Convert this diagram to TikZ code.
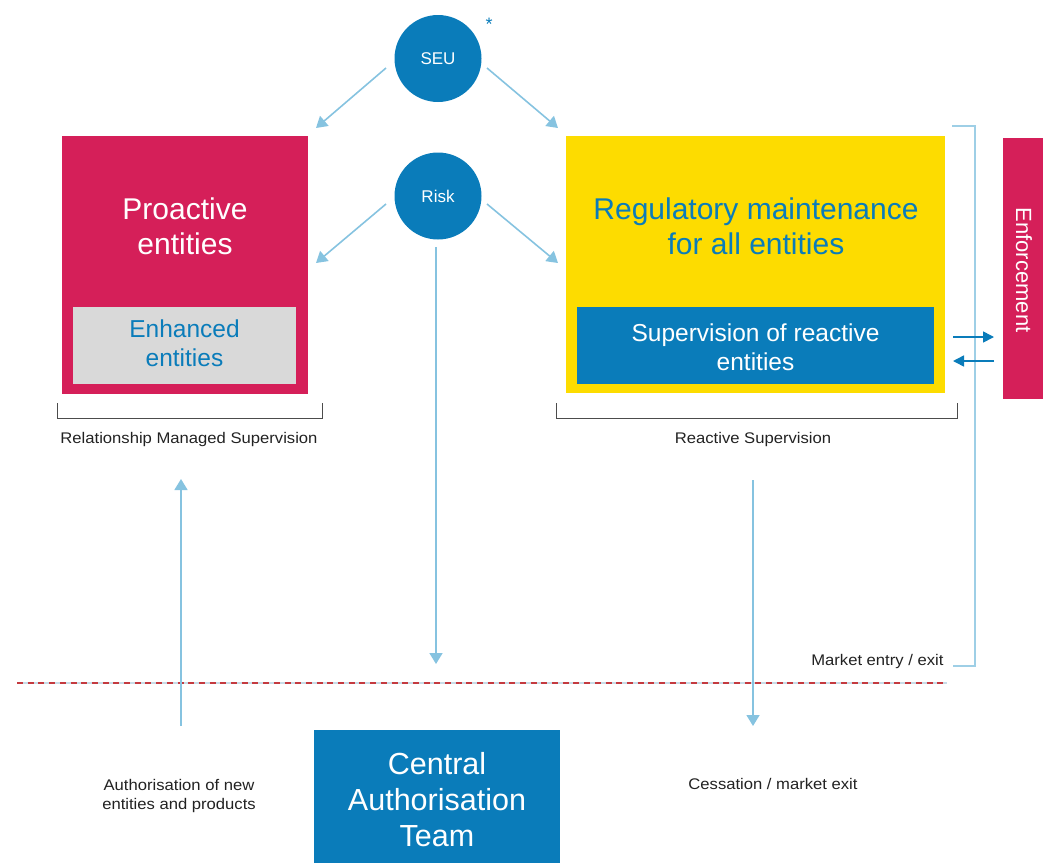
\documentclass[tikz,border=0pt]{standalone}
\usepackage{fontspec}
\setmainfont{Liberation Sans}
\newfontfamily\smallfont[FakeStretch=1.08]{Liberation Sans}
\usetikzlibrary{arrows.meta}
\definecolor{cred}{HTML}{D51F59}
\definecolor{cblue}{HTML}{0A7CBA}
\definecolor{clight}{HTML}{86C3E0}
\definecolor{cyellow}{HTML}{FDDC00}
\definecolor{cgray}{HTML}{D9D9D9}
\definecolor{cdash}{HTML}{C43A3F}
\definecolor{cdashbg}{HTML}{C8DCE8}
\definecolor{ctext}{HTML}{222222}
\begin{document}
\begin{tikzpicture}[x=1pt,y=-1pt,
  box/.style={inner sep=0pt, outer sep=0pt},
  circ/.style={circle, fill=cblue, minimum size=87pt, inner sep=0pt, text=white, font=\fontsize{17}{20}\selectfont},
  flow/.style={draw=clight, line width=1.6pt, -{Triangle[width=13pt,length=11pt]}},
  bigtxt/.style={align=center, font=\fontsize{30}{35}\selectfont},
  cattxtstyle/.style={align=center, font=\fontsize{30.5}{36}\selectfont},
  midtxt/.style={align=center, font=\fontsize{24.5}{29}\selectfont},
  small/.style={align=center, text=ctext, font=\smallfont\fontsize{15.4}{19}\selectfont},
  brk/.style={draw=black!70, line width=1pt},
  lbrk/.style={draw=clight!80, line width=1.6pt},
  enfarrow/.style={draw=cblue, line width=1.6pt, -{Triangle[width=11pt,length=11pt]}}
]
\useasboundingbox (0,0) rectangle (1043,863);
% boxes
\node[box, fill=cred, minimum width=246pt, minimum height=258pt] (pro) at (185,265) {};
\node[box, fill=cgray, minimum width=223pt, minimum height=77pt] (enh) at (184.5,345.5) {};
\node[box, fill=cyellow, minimum width=379pt, minimum height=257pt] (reg) at (755.5,264.5) {};
\node[box, fill=cblue, minimum width=357pt, minimum height=77pt] (sup) at (755.5,345.5) {};
\node[box, fill=cred, minimum width=40pt, minimum height=261pt] (enf) at (1023,268.5) {};
\node[box, fill=cblue, minimum width=246pt, minimum height=133pt] (cat) at (437,796.5) {};
% texts
\node[bigtxt, text=white] (protxt) at (185,226) {Proactive\\entities};
\node[midtxt, text=cblue] (enhtxt) at (184.5,343) {Enhanced\\entities};
\node[bigtxt, text=cblue] (regtxt) at (756,226) {Regulatory maintenance\\for all entities};
\node[midtxt, text=white] (suptxt) at (755.5,347) {Supervision of reactive\\entities};
\node[text=white, rotate=-90, font=\fontsize{22}{26}\selectfont] (enftxt) at (1024,270) {Enforcement};
\node[cattxtstyle, text=white] (cattxt) at (437,799.5) {Central\\Authorisation\\Team};
% circles
\node[circ] (seu) at (438,58.5) {SEU};
\node[circ] (risk) at (438,196) {Risk};
\node[text=cblue, font=\fontsize{18}{20}\selectfont] (ast) at (489,24) {*};
% arrows from circles
\coordinate (a1s) at (386,68); \coordinate (a1e) at (316,128);
\coordinate (a2s) at (487,68); \coordinate (a2e) at (558,128);
\coordinate (a3s) at (386,204); \coordinate (a3e) at (316,263);
\coordinate (a4s) at (487,204); \coordinate (a4e) at (558,263);
\draw[flow] (a1s) -- (a1e);
\draw[flow] (a2s) -- (a2e);
\draw[flow] (a3s) -- (a3e);
\draw[flow] (a4s) -- (a4e);
\coordinate (rtop) at (436,247);
\coordinate (rdown) at (436,664);
\draw[flow] (rtop) -- (rdown);
% brackets
\draw[brk] (57,403) -- (57,418) -- (322,418) -- (322,403);
\draw[brk] (556,403) -- (556,418) -- (957,418) -- (957,403);
\node[small] (rms) at (189,440) {Relationship Managed Supervision};
\node[small] (rs) at (753,440) {Reactive Supervision};
% right light bracket
\draw[lbrk] (952,126) -- (975,126) -- (975,666) -- (953,666);
\node[small, anchor=east] (mee) at (947,662) {Market entry / exit};
% enforcement arrows
\coordinate (e1) at (953,337); \coordinate (e2) at (994,337);
\coordinate (e3) at (994,361); \coordinate (e4) at (953,361);
\draw[enfarrow] (e1) -- (e2);
\draw[enfarrow] (e3) -- (e4);
% dashed line
\coordinate (dl) at (17,683); \coordinate (dr) at (947,683);
\draw[draw=cdashbg, line width=1.4pt] (dl) -- (dr);
\draw[draw=cdash, line width=1.5pt, dash pattern=on 6pt off 4.7pt] (dl) -- (dr);
% up/down arrows
\coordinate (upS) at (181,726); \coordinate (upE) at (181,479);
\draw[flow] (upS) -- (upE);
\coordinate (dnS) at (753,480); \coordinate (dnE) at (753,726);
\draw[flow] (dnS) -- (dnE);
\node[small] (auth) at (179,796) {Authorisation of new\\entities and products};
\node[small] (cess) at (773,784) {Cessation / market exit};
\end{tikzpicture}
\end{document}
